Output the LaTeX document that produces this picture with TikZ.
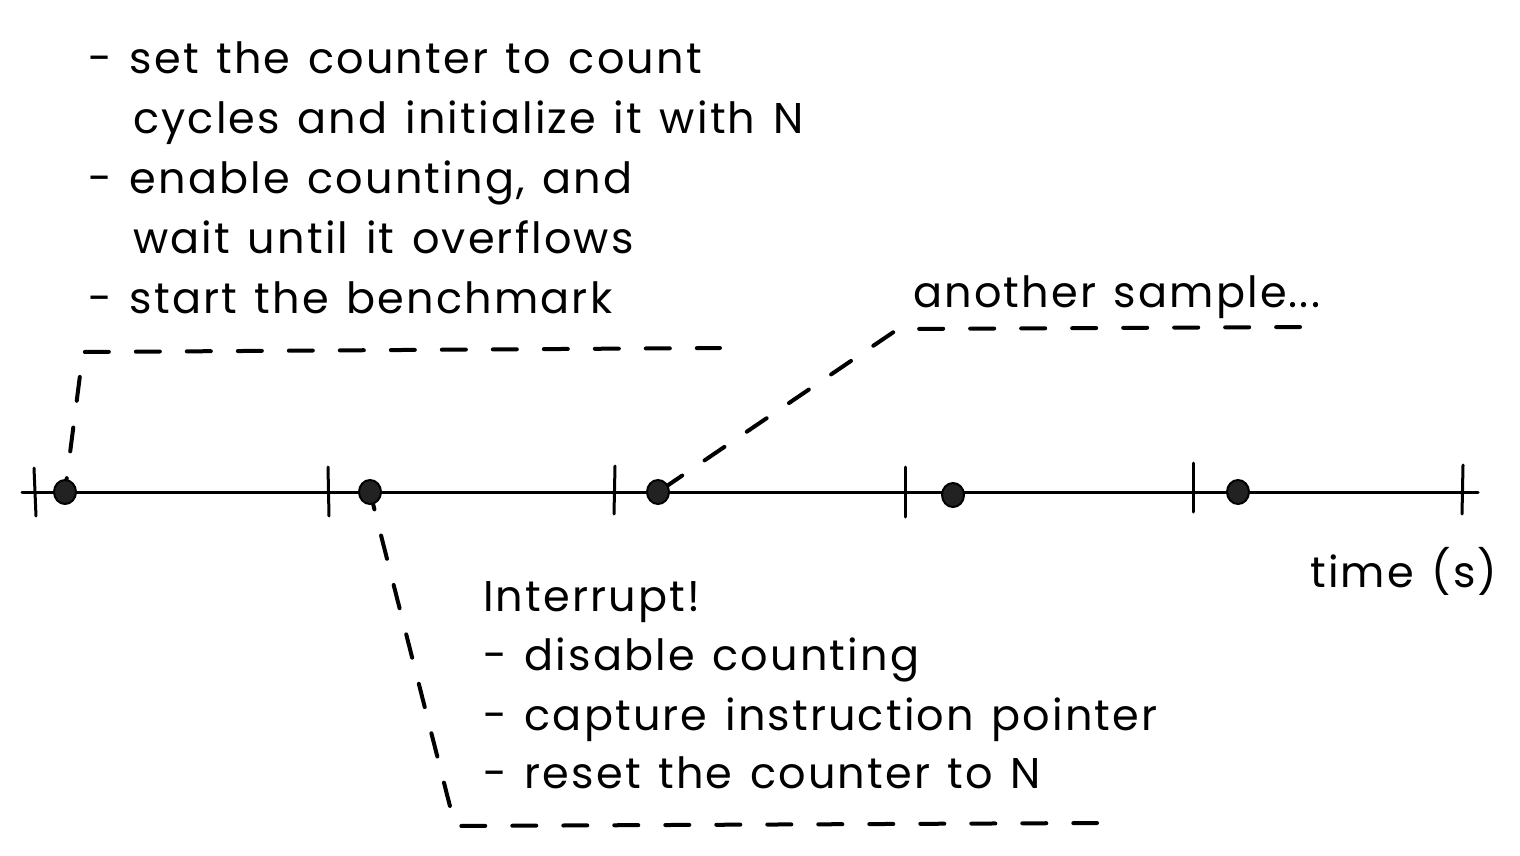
\documentclass[tikz,border=0pt]{standalone}
\usepackage{fontspec}
\setmainfont{Poppins}[LetterSpace=5, WordSpace=1.3]
\usetikzlibrary{shapes.geometric}
\definecolor{ink}{HTML}{000000}
\definecolor{dotfill}{HTML}{222222}
\tikzset{
  axisline/.style={ink, line width=3pt, line cap=round},
  tickmark/.style={ink, line width=3pt, line cap=round},
  dotnode/.style={ellipse, minimum width=22pt, minimum height=24pt, inner sep=0pt, fill=dotfill, draw=ink, line width=2pt},
  dashline/.style={ink, line width=4pt, line cap=round, line join=round, dash pattern=on 24pt off 27pt, dash phase=#1},
  dashline/.default=0pt,
  label/.style={anchor=base west, inner sep=0pt, font=\fontsize{43}{50}\selectfont, text=ink},
}
\begin{document}
\begin{tikzpicture}[x=1pt,y=-1pt]
\useasboundingbox (0,0) rectangle (1520,856);
% timeline
\coordinate (ax0) at (22,492);
\coordinate (ax1) at (1478,492);
\draw[axisline] (ax0) -- (ax1);
% ticks
\draw[tickmark] (34,468) -- (36,516);
\draw[tickmark] (328,467) -- (329,516);
\draw[tickmark] (615,466) -- (614,514);
\draw[tickmark] (905,467) -- (905,517);
\draw[tickmark] (1193,463) -- (1193,512);
\draw[tickmark] (1463,465) -- (1462,514);
% connector end points
\coordinate (c1) at (83,352);
\coordinate (e1) at (720,348);
\coordinate (c3) at (898,329);
\coordinate (e3) at (1300,327);
\coordinate (c2) at (455,826);
\coordinate (e2) at (1097,823);
% dots
\node[dotnode] (d1) at (65,492) {};
\node[dotnode] (d2) at (370,492) {};
\node[dotnode] (d3) at (658,492) {};
\node[dotnode] (d4) at (953,495) {};
\node[dotnode] (d5) at (1238,492) {};
% dashed connectors
\draw[dashline=23pt] (d1) -- (c1) -- (e1);
\draw[dashline=7pt] (d3) -- (c3) -- (e3);
\draw[dashline=19pt] (d2) -- (c2) -- (e2);
% top text
\node[label] (t1) at (88,74) {- set the counter to count};
\node[label] (t2) at (133,133) {cycles and initialize it with N};
\node[label] (t3) at (88,193) {- enable counting, and};
\node[label] (t4) at (133,253) {wait until it overflows};
\node[label] (t5) at (88,313) {- start the benchmark};
% another sample
\node[label] (as) at (913,307) {another sample...};
% time
\node[label] (tm) at (1310,587) {time (s)};
% interrupt text
\node[label] (i1) at (483,611) {Interrupt!};
\node[label] (i2) at (483,670) {- disable counting};
\node[label] (i3) at (483,730) {- capture instruction pointer};
\node[label] (i4) at (483,788) {- reset the counter to N};
\end{tikzpicture}
\end{document}
